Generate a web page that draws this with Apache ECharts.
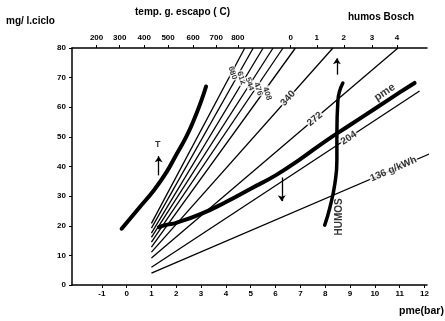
<!DOCTYPE html>
<html>
<head>
<meta charset="utf-8">
<script src="https://cdn.jsdelivr.net/npm/echarts@6/dist/echarts.min.js"></script>
<style>
  html, body { margin: 0; padding: 0; background: #fff; }
  #chart { width: 445px; height: 321px; }
</style>
</head>
<body>
<div id="chart"></div>
<script>
// bottom axis: pme (bar)
const pmeTicks = [-1, 0, 1, 2, 3, 4, 5, 6, 7, 8, 9, 10, 11, 12];
// top axis: exhaust gas temperature and Bosch smoke, placed on the pme scale
const tempLabels = ["200", "300", "400", "500", "600", "700", "800"];
const tempPos = [-1.21, -0.28, 0.71, 1.67, 2.68, 3.61, 4.48];
const humosLabels = ["0", "1", "2", "3", "4"];
const humosPos = [6.61, 7.66, 8.75, 9.88, 10.89];

// consumption lines (g/kWh): start at pme = 1, end point
const fanNames = ["680", "612", "544", "476", "408", "", "340", "272", "204", "136 g/kWh"];
const fanStartY = [20.8, 19.2, 17.5, 16.1, 14.5, 12.8, 11.1, 9.1, 6.0, 4.0];
const fanEnd = [
  [4.76, 80], [5.1, 80], [5.5, 80], [5.9, 80], [6.3, 80], [6.8, 80],
  [8.31, 80], [10.93, 80], [11.8, 65.5], [12.8, 46.4]
];
// where each label sits [pme, mg/ciclo]
const fanLabelPos = [
  [4.27, 71.6], [4.62, 69.9], [4.96, 67.9], [5.3, 66.2], [5.66, 64.6], null,
  [6.5, 63], [7.58, 56], [8.95, 49.6], [10.75, 39.1]
];

// thick curves
const tCurve = [[-0.2, 19], [0.5, 26], [1.1, 32], [1.6, 38], [2, 44], [2.4, 50], [2.7, 55.5], [3.0, 62], [3.2, 67]];
const pmeCurve = [[1.3, 19.5], [1.6, 20.3], [2, 21], [3, 24], [4, 28], [5, 32.5], [6, 37], [7, 42.5], [8, 48.5], [9, 54], [10, 59.5], [11, 65], [11.6, 68.2]];
const humosCurve = [[7.98, 20.2], [8.19, 26.2], [8.39, 34.3], [8.47, 42], [8.47, 51.1], [8.51, 62.2], [8.71, 68.2]];

// arrows [from, to]
const arrows = [
  [[1.29, 37], [1.29, 43.5]],
  [[6.25, 36.3], [6.25, 28.3]],
  [[8.47, 71], [8.47, 76.5]]
];

const FONT = "Liberation Sans";
const chartDom = document.getElementById("chart");
const myChart = echarts.init(chartDom);

function fanLine(i) {
  return [[1, fanStartY[i]], fanEnd[i]];
}

let series = [];
fanNames.forEach((name, i) => {
  series.push({
    type: "line",
    data: fanLine(i),
    symbol: "none",
    silent: true,
    clip: false,
    lineStyle: { color: "#000", width: 1.3 },
    z: 2,
  });
});
series.push({
  type: "line", data: tCurve, smooth: true, symbol: "none", silent: true,
  lineStyle: { color: "#000", width: 4, cap: "round" }, z: 3,
});
series.push({
  type: "line", data: pmeCurve, smooth: true, symbol: "none", silent: true,
  lineStyle: { color: "#000", width: 4, cap: "round" }, z: 3,
});
series.push({
  type: "line", data: humosCurve, smooth: true, symbol: "none", silent: true,
  lineStyle: { color: "#000", width: 3.5, cap: "round" }, z: 3,
});
series.push({
  type: "line", data: [], symbol: "none", silent: true,
  markLine: {
    silent: true,
    symbol: ["none", "arrow"],
    symbolSize: 6,
    label: { show: false },
    lineStyle: { color: "#000", width: 1.3, type: "solid" },
    data: arrows.map((a) => [{ coord: a[0] }, { coord: a[1] }]),
  },
});

const option = {
  animation: false,
  grid: { left: 72, right: 18, top: 48, bottom: 36 },
  xAxis: [
    {
      type: "value", min: -2.2, max: 12.1,
      splitLine: { show: false },
      axisLine: { onZero: false, lineStyle: { color: "#000", width: 1.5 } },
      axisTick: { customValues: pmeTicks, length: 3, lineStyle: { color: "#000" } },
      axisLabel: {
        customValues: pmeTicks, color: "#000", fontFamily: FONT, fontWeight: "bold",
        fontSize: 8, margin: 5,
      },
    },
    {
      type: "value", position: "top", min: -2.2, max: 12.1,
      splitLine: { show: false },
      axisLine: { onZero: false, lineStyle: { color: "#000", width: 1.5 } },
      axisTick: { customValues: tempPos.concat(humosPos), length: 3, lineStyle: { color: "#000" } },
      axisLabel: {
        customValues: tempPos.concat(humosPos), color: "#000", fontFamily: FONT,
        fontWeight: "bold", fontSize: 8, margin: 6,
        formatter: (v) => {
          let i = tempPos.findIndex((p) => Math.abs(p - v) < 1e-6);
          if (i >= 0) return tempLabels[i];
          i = humosPos.findIndex((p) => Math.abs(p - v) < 1e-6);
          return i >= 0 ? humosLabels[i] : "";
        },
      },
    },
  ],
  yAxis: {
    type: "value", min: 0, max: 80, interval: 10,
    splitLine: { show: false },
    axisLine: { show: true, onZero: false, lineStyle: { color: "#000", width: 1.5 } },
    axisTick: { show: true, length: 3, lineStyle: { color: "#000" } },
    axisLabel: { color: "#000", fontFamily: FONT, fontWeight: "bold", fontSize: 8, margin: 6 },
  },
  series: series,
  graphic: [
    { type: "text", left: 6, top: 16, style: { text: "mg/ l.ciclo", font: "bold 10px " + FONT, fill: "#000" } },
    { type: "text", left: 135, top: 7, style: { text: "temp. g. escapo ( C)", font: "bold 10px " + FONT, fill: "#000" } },
    { type: "text", left: 348, top: 12, style: { text: "humos Bosch", font: "bold 10px " + FONT, fill: "#000" } },
    { type: "text", left: 399, top: 306, style: { text: "pme(bar)", font: "bold 10.5px " + FONT, fill: "#000" } },
  ],
};
myChart.setOption(option);

// labels turned to follow their lines on screen
function angleOf(p, q) {
  const a = myChart.convertToPixel({ gridIndex: 0 }, p);
  const b = myChart.convertToPixel({ gridIndex: 0 }, q);
  return Math.atan2(a[1] - b[1], b[0] - a[0]) * 180 / Math.PI;
}
let labelData = [];
fanNames.forEach((name, i) => {
  if (!name || !fanLabelPos[i]) return;
  const [p, q] = fanLine(i);
  // the five steep ones are written reading downwards
  const steep = i < 5;
  labelData.push({
    value: fanLabelPos[i],
    label: {
      formatter: name,
      rotate: steep ? -72 : angleOf(p, q),
      fontSize: steep ? 8 : 10,
    },
  });
});
labelData.push({ value: [10.4, 65], label: { formatter: "pme", fontSize: 11, rotate: angleOf([9, 54], [11, 65]), backgroundColor: "transparent" } });
labelData.push({ value: [8.58, 23], label: { formatter: "HUMOS", rotate: 90, fontSize: 10 } });
labelData.push({ value: [1.25, 47.5], label: { formatter: "T", fontSize: 9, backgroundColor: "transparent" } });

series.push({
  type: "scatter", data: labelData, symbolSize: 0, silent: true, z: 5,
  label: {
    show: true, position: "inside", color: "#000", fontFamily: FONT, fontWeight: "bold",
    fontSize: 8, backgroundColor: "#fff", padding: [0, 1],
  },
});
myChart.setOption({ series: series });

window.addEventListener("resize", () => myChart.resize());
</script>
</body>
</html>
